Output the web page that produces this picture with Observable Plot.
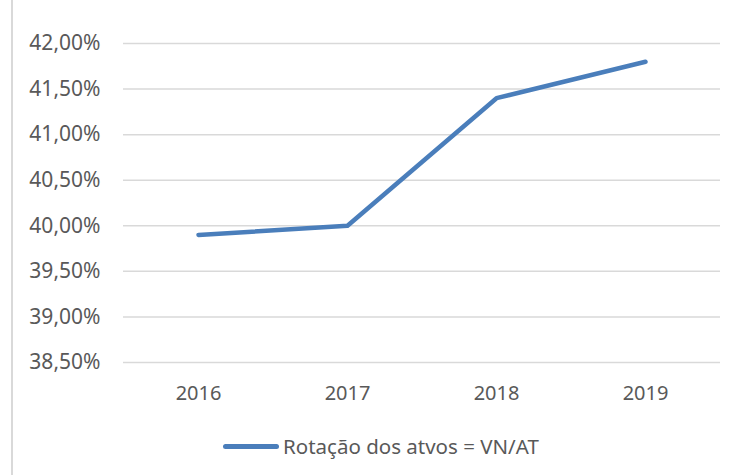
<!DOCTYPE html>
<html>
<head>
<meta charset="utf-8">
<script src="https://cdn.jsdelivr.net/npm/d3@7"></script>
<script src="https://cdn.jsdelivr.net/npm/@observablehq/plot@0.6"></script>
<style>
  html, body { margin: 0; padding: 0; background: #fff; }
  #wrap { position: relative; width: 738px; height: 475px; overflow: hidden; font-family: "Noto Sans", sans-serif; }
  #border { position: absolute; left: 11px; top: 0; width: 2px; height: 475px; background: #d9d9d9; }
  #legend { position: absolute; left: 0; top: 431px; width: 738px; height: 30px; display: flex; align-items: center; font-size: 20.5px; color: #595959; }
  #legend .swatch { display: inline-block; width: 56px; height: 5px; border-radius: 3px; background: #4a7ebb; margin-left: 223px; margin-right: 4px; }
  #chart g[aria-label="y-axis tick label"] text { font-size: 21px !important; }
  #chart g[aria-label="x-axis tick label"] text { font-size: 20px !important; }
</style>
</head>
<body>
<div id="wrap"><div id="border"></div><div id="chart"></div>
<div id="legend"><span class="swatch"></span><span id="legendText"></span></div></div>
<script>
const years = ["2016", "2017", "2018", "2019"];
const values = [39.90, 40.00, 41.40, 41.80];
const yTicks = [38.5, 39.0, 39.5, 40.0, 40.5, 41.0, 41.5, 42.0];
const seriesName = "Rotação dos atvos = VN/AT";

const data = years.map((y, i) => ({year: y, value: values[i]}));
const fmt = d => d.toFixed(2).replace(".", ",") + "%";

const chart = Plot.plot({
  width: 738,
  height: 420,
  marginTop: 43,
  marginBottom: 58,
  marginLeft: 123,
  marginRight: 18,
  style: {fontFamily: "Noto Sans, sans-serif", fontSize: "20px", color: "#595959", background: "transparent"},
  x: {type: "point", domain: years, padding: 0.5, label: null},
  y: {domain: [38.5, 42], label: null},
  marks: [
    Plot.gridY(yTicks, {stroke: "#d9d9d9", strokeOpacity: 1, strokeWidth: 1.5}),
    Plot.axisY(yTicks, {tickSize: 0, tickPadding: 23, tickFormat: fmt, fill: "#595959", fontSize: 21}),
    Plot.axisX({tickSize: 0, tickPadding: 23, fill: "#595959", fontSize: 20}),
    Plot.line(data, {x: "year", y: "value", stroke: "#4a7ebb", strokeWidth: 4.5, strokeLinecap: "round", strokeLinejoin: "round"})
  ]
});
document.getElementById("chart").appendChild(chart);
document.getElementById("legendText").textContent = seriesName;
</script>
</body>
</html>
